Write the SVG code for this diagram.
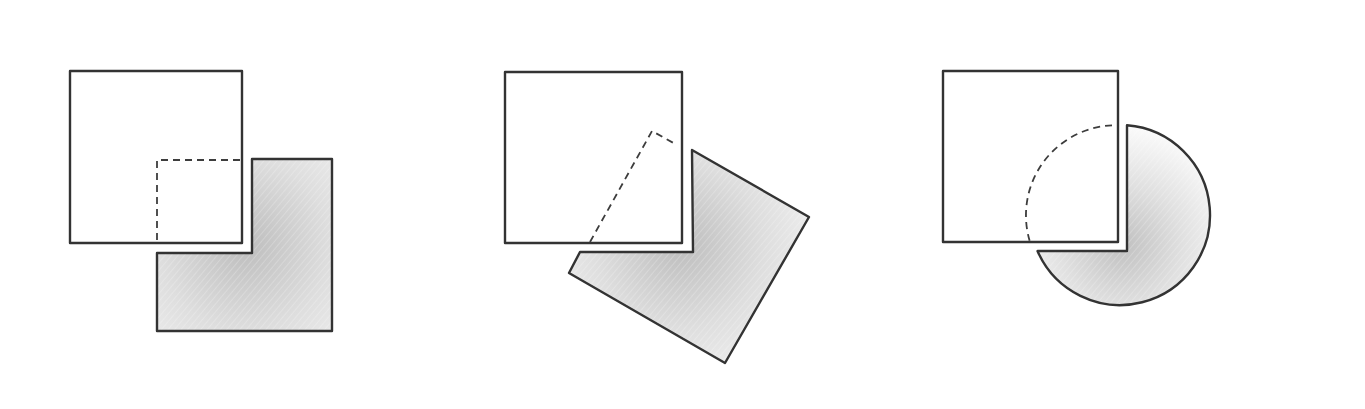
<svg xmlns="http://www.w3.org/2000/svg" width="1365" height="409" viewBox="0 0 1365 409">
<style>
.edge{fill:none;stroke:#333;stroke-width:2.4;stroke-linejoin:round;stroke-linecap:round}
.dash{fill:none;stroke:#3d3d3d;stroke-width:1.8;stroke-dasharray:7 5}
</style>
<defs>
<radialGradient id="g1" gradientUnits="userSpaceOnUse" cx="245" cy="245" r="190">
<stop offset="0" stop-color="#bdbdbd"/><stop offset="0.45" stop-color="#dedede"/><stop offset="1" stop-color="#fbfbfb"/>
</radialGradient>
<radialGradient id="g2" gradientUnits="userSpaceOnUse" cx="680" cy="245" r="185">
<stop offset="0" stop-color="#bdbdbd"/><stop offset="0.45" stop-color="#dedede"/><stop offset="1" stop-color="#fbfbfb"/>
</radialGradient>
<radialGradient id="g3" gradientUnits="userSpaceOnUse" cx="1122" cy="245" r="120">
<stop offset="0" stop-color="#c0c0c0"/><stop offset="0.5" stop-color="#e0e0e0"/><stop offset="1" stop-color="#fbfbfb"/>
</radialGradient>
<pattern id="hp" patternUnits="userSpaceOnUse" width="5" height="5" patternTransform="rotate(40)">
<line x1="0" y1="0" x2="0" y2="5" stroke="#ffffff" stroke-width="1.2" opacity="0.35"/>
</pattern>
</defs>
<rect width="1365" height="409" fill="#fff"/>
<g id="panel1">
<path d="M252,159 L332,159 L332,331 L157,331 L157,253 L252,253 Z" fill="url(#g1)"/>
<path d="M252,159 L332,159 L332,331 L157,331 L157,253 L252,253 Z" fill="url(#hp)"/>
<path class="edge" d="M252,159 L332,159 L332,331 L157,331 L157,253 L252,253 Z"/>
<rect class="edge" x="70" y="71" width="172" height="172"/>
<path class="dash" d="M240,160 L157,160 L157,243"/>
</g>
<g id="panel2">
<path d="M692,150 L809,217 L725,363 L569,273 L580,252 L693,252 Z" fill="url(#g2)"/>
<path d="M692,150 L809,217 L725,363 L569,273 L580,252 L693,252 Z" fill="url(#hp)"/>
<path class="edge" d="M692,150 L809,217 L725,363 L569,273 L580,252 L693,252 Z"/>
<rect class="edge" x="505" y="72" width="177" height="171"/>
<path class="dash" d="M590,242 L652,131 L677,145"/>
</g>
<g id="panel3">
<path d="M1127,125.3 A90,90 0 1 1 1037.5,251 L1127,251 Z" fill="url(#g3)"/>
<path d="M1127,125.3 A90,90 0 1 1 1037.5,251 L1127,251 Z" fill="url(#hp)"/>
<path class="edge" d="M1127,125.3 A90,90 0 1 1 1037.5,251 L1127,251 Z" stroke-width="2"/>
<rect class="edge" x="943" y="71" width="175" height="171"/>
<path class="dash" d="M1112,125.4 A90,90 0 0 0 1030,242"/>
</g>
</svg>
